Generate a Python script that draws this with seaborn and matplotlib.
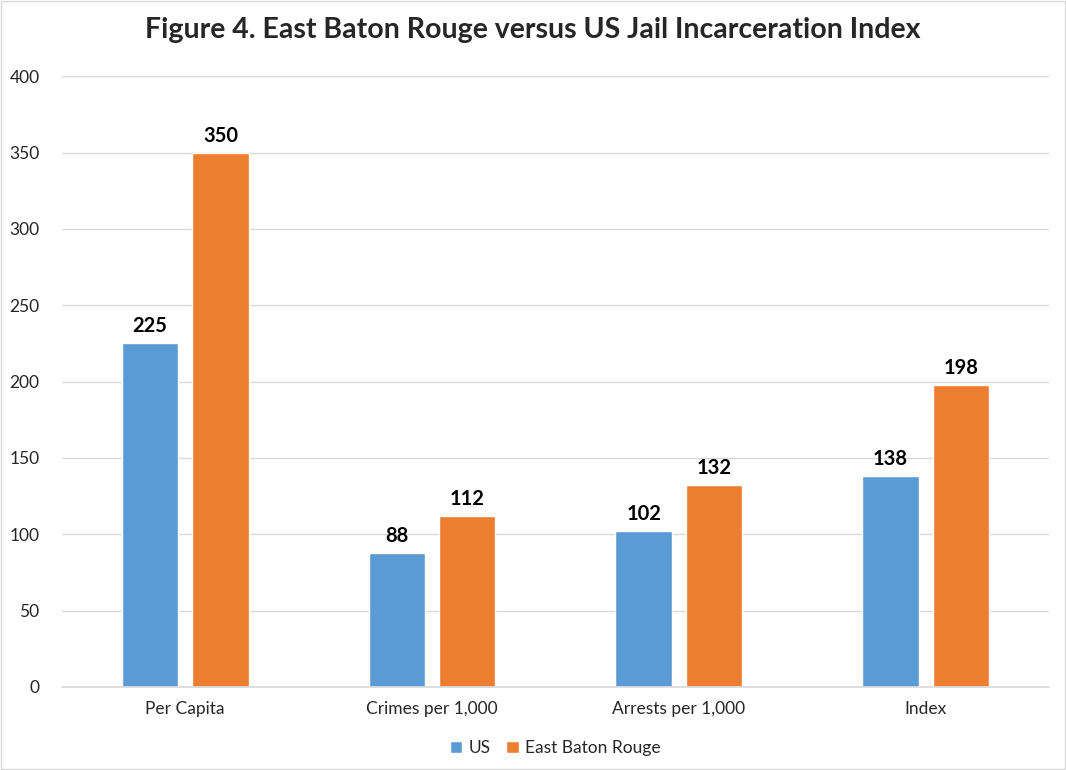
import pandas as pd
import matplotlib.pyplot as plt
import seaborn as sns

categories = ["Per Capita", "Crimes per 1,000", "Arrests per 1,000", "Index"]
us_values = [225, 88, 102, 138]
ebr_values = [350, 112, 132, 198]
series = ["US", "East Baton Rouge"]

df = pd.DataFrame({
    "category": categories * 2,
    "value": us_values + ebr_values,
    "series": [series[0]] * 4 + [series[1]] * 4,
})

sns.set_theme(style="white")
plt.rcParams["font.family"] = ["Lato", "DejaVu Sans"]

fig = plt.figure(figsize=(10.66, 7.7), dpi=100)
ax = fig.add_axes([0.058, 0.108, 0.926, 0.793])

palette = {"US": "#5B9BD5", "East Baton Rouge": "#ED7D31"}
sns.barplot(data=df, x="category", y="value", hue="series", palette=palette,
            width=0.57, gap=0.2, ax=ax, saturation=1, legend=True)

for cont in ax.containers:
    ax.bar_label(cont, fmt="%d", padding=5, fontsize=14.5, fontweight="bold", color="black")

ax.set_ylim(0, 400)
ax.set_yticks(range(0, 401, 50))
ax.yaxis.grid(True, color="#D9D9D9", linewidth=1)
ax.set_axisbelow(True)
for s in ["top", "right", "left"]:
    ax.spines[s].set_visible(False)
ax.spines["bottom"].set_color("#D9D9D9")
ax.tick_params(axis="both", length=0, labelsize=12.5, colors="#262626")
ax.tick_params(axis="y", pad=16)
ax.tick_params(axis="x", pad=10)
ax.set_xlabel("")
ax.set_ylabel("")

ax.legend(loc="upper center", bbox_to_anchor=(0.5, -0.062), ncol=2, frameon=False,
          fontsize=12.5, handlelength=0.7, handleheight=0.7, columnspacing=0.9,
          handletextpad=0.4)

fig.suptitle("Figure 4. East Baton Rouge versus US Jail Incarceration Index",
             fontsize=20.5, fontweight="bold", y=0.978)

fig.patches.append(plt.Rectangle((0.001, 0.001), 0.998, 0.998, transform=fig.transFigure,
                                 fill=False, edgecolor="#D9D9D9", linewidth=1))

fig.savefig("out.png", dpi=100)
